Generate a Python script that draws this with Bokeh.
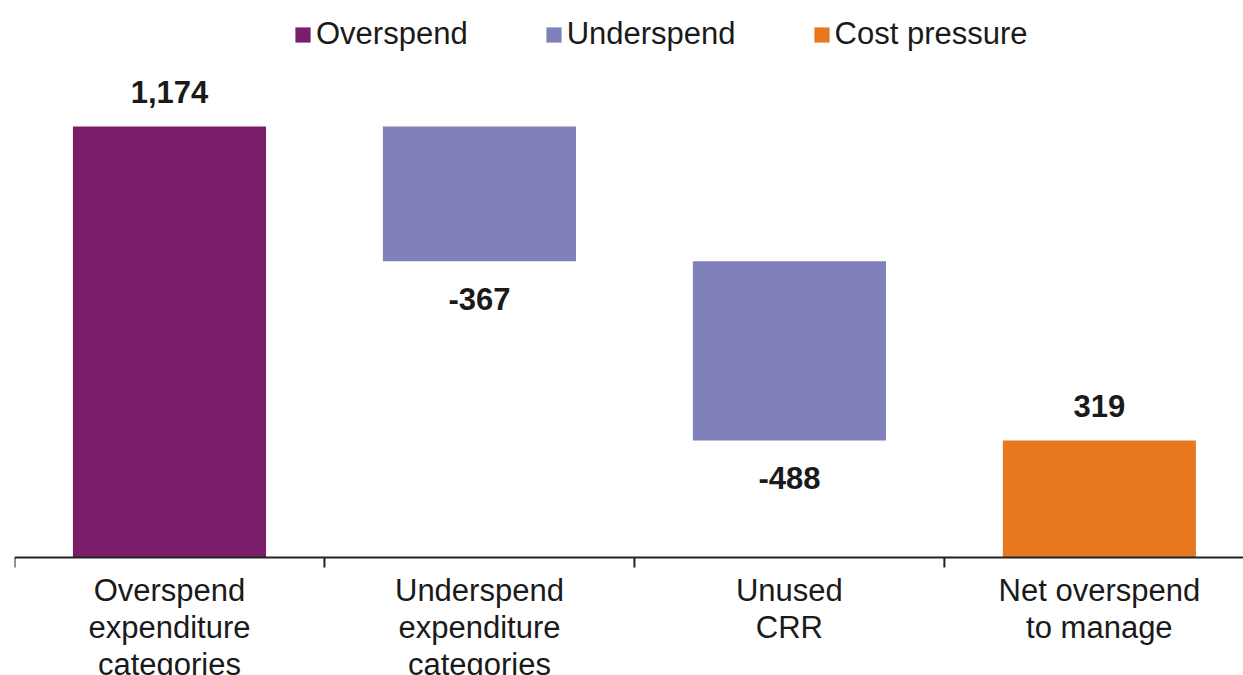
from bokeh.plotting import figure
from bokeh.models import ColumnDataSource, Range1d, Legend, LegendItem, Span
from bokeh.core.properties import value
from bokeh.embed import file_html
from bokeh.resources import INLINE

# ---- data ----
categories = ["Overspend\nexpenditure\ncategories",
              "Underspend\nexpenditure\ncategories",
              "Unused\nCRR",
              "Net overspend\nto manage"]
values = [1174, -367, -488, 319]
kinds = ["Overspend", "Underspend", "Underspend", "Cost pressure"]
is_total = [False, False, False, True]
legend_names = ["Overspend", "Underspend", "Cost pressure"]
colors = {"Overspend": "#7A1E6A", "Underspend": "#8080BA", "Cost pressure": "#E8781F"}

# waterfall extents
bottoms, tops = [], []
running = 0
for v, t in zip(values, is_total):
    if t:
        bottoms.append(min(0, v)); tops.append(max(0, v))
    else:
        start = running
        running += v
        bottoms.append(min(start, running)); tops.append(max(start, running))
xs = list(range(len(categories)))

FONT = "Liberation Sans"
TXT = "#1a1a1a"

W, H = 1243, 675
BORDER_L, BORDER_T = 14, 8
AXIS_PX = 557              # pixel row of the zero line
Y_END = 1495.4
px_per_unit = (AXIS_PX - BORDER_T) / Y_END
y_start = -(H - AXIS_PX) / px_per_unit

p = figure(width=W, height=H,
           x_range=Range1d(-0.5, 3.465), y_range=Range1d(y_start, Y_END),
           output_backend="svg", toolbar_location=None,
           x_axis_location=None, y_axis_location=None,
           min_border_left=BORDER_L, min_border_right=0,
           min_border_top=BORDER_T, min_border_bottom=0)
p.xgrid.visible = False
p.ygrid.visible = False
p.outline_line_color = None
p.background_fill_color = "white"
p.border_fill_color = "white"

renderers = {}
for name in legend_names:
    idx = [i for i, k in enumerate(kinds) if k == name]
    src = ColumnDataSource(dict(x=[xs[i] for i in idx],
                                bottom=[bottoms[i] for i in idx],
                                top=[tops[i] for i in idx]))
    renderers[name] = p.vbar(x="x", width=0.623, bottom="bottom", top="top", source=src,
                             fill_color=colors[name], line_color=None)

# value labels
lab_y = [tops[i] if values[i] > 0 else bottoms[i] for i in xs]
lab_off = [-34 if values[i] > 0 else 38 for i in xs]
lab_txt = [f"{v:,}" for v in values]
lsrc = ColumnDataSource(dict(x=xs, y=lab_y, t=lab_txt, off=lab_off))
p.text(x="x", y="y", text="t", y_offset="off", source=lsrc,
       text_align="center", text_baseline="alphabetic",
       text_font=value(FONT), text_font_size="31px", text_font_style="bold",
       text_color=TXT)

# category axis: zero line, separators between categories, labels
p.add_layout(Span(location=0, dimension="width", line_color="#222222", line_width=2))
tick_x = [i - 0.5 for i in range(len(categories) + 1)]
tick_len = 10 / px_per_unit
p.segment(x0=tick_x, y0=[0] * len(tick_x), x1=tick_x, y1=[-tick_len] * len(tick_x),
          line_color="#222222", line_width=2)
csrc = ColumnDataSource(dict(x=xs, y=[0] * len(xs), t=categories))
p.text(x="x", y="y", text="t", source=csrc, y_offset=15,
       text_align="center", text_baseline="top", text_line_height=1.07,
       text_font=value(FONT), text_font_size="31px", text_color=TXT)

legend = Legend(items=[LegendItem(label=n, renderers=[renderers[n]]) for n in legend_names],
                orientation="horizontal", location=(279, 505 + (H - AXIS_PX)),
                glyph_width=19, glyph_height=19, label_standoff=4, spacing=76,
                padding=0, margin=0, border_line_color=None, background_fill_alpha=0,
                label_text_font=FONT, label_text_font_size="31px", label_text_color=TXT)
p.add_layout(legend)

open("out.html", "w").write(file_html(p, INLINE))
